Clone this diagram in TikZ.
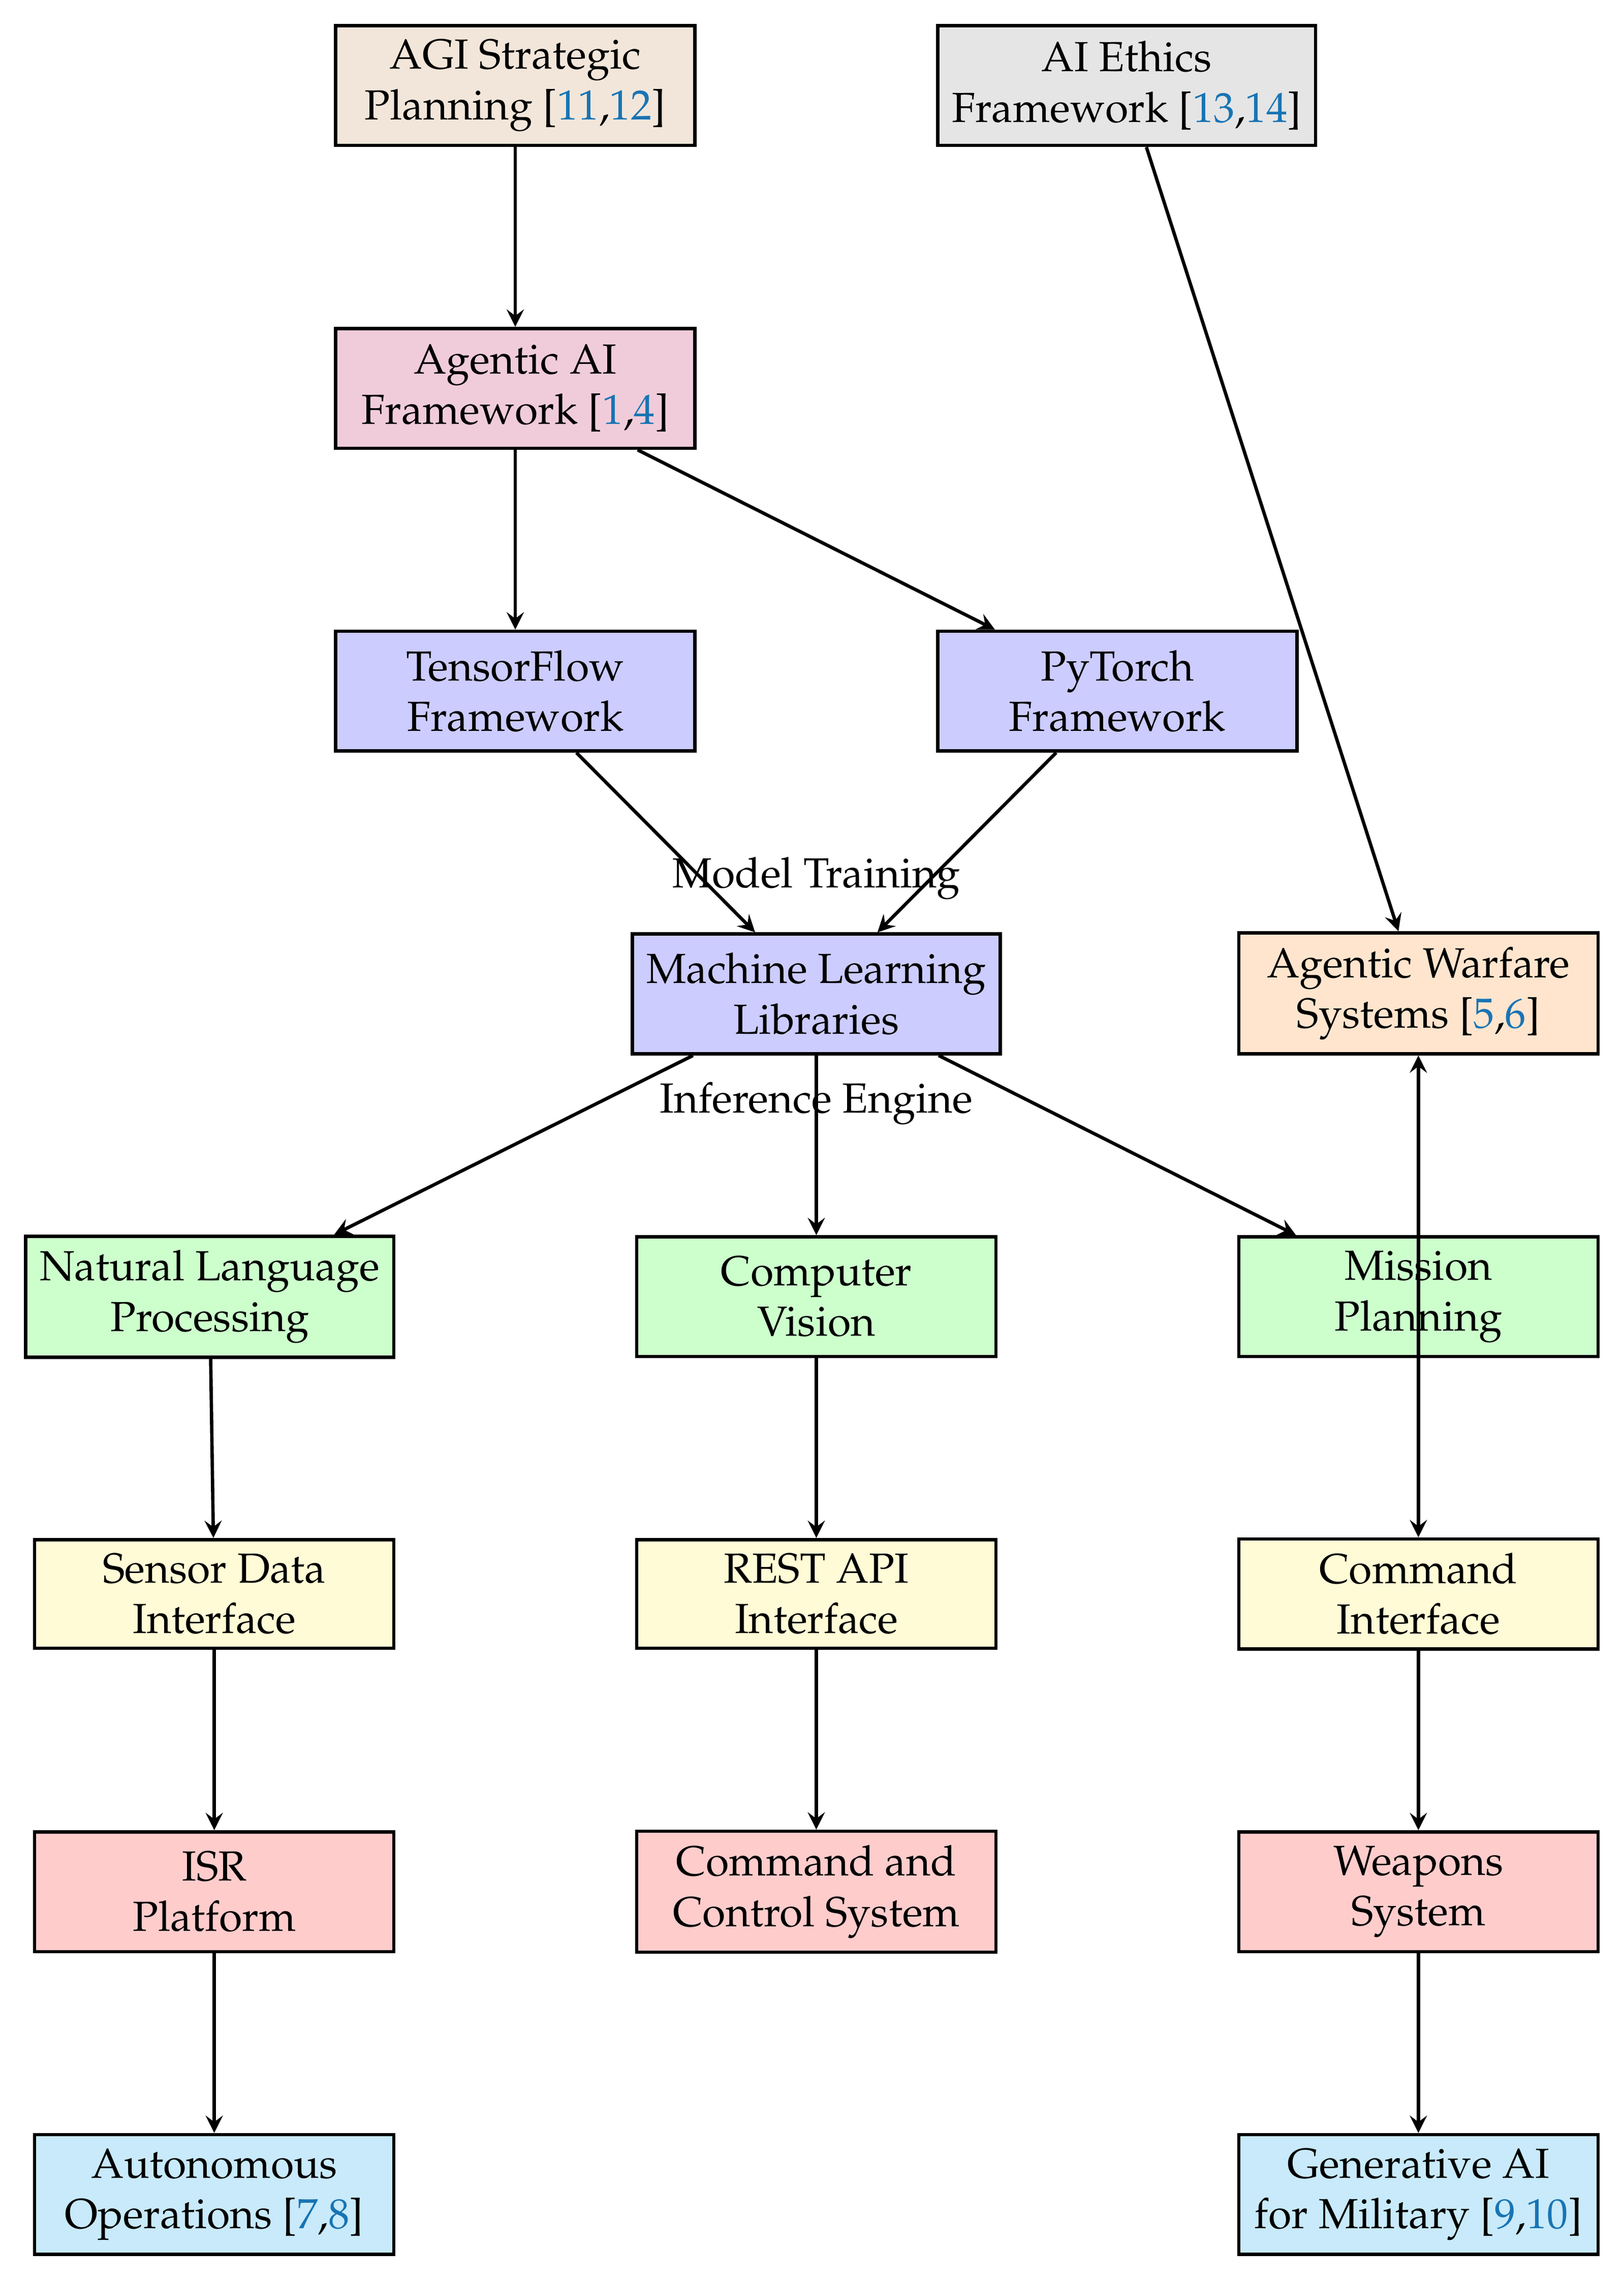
\documentclass[tikz,border=0pt]{standalone}
\usepackage[T1]{fontenc}
\usepackage{mathpazo}
\usepackage{tikz}
\usetikzlibrary{positioning}
\usetikzlibrary{calc}
\definecolor{cite-blue}{RGB}{24,116,180}
\definecolor{color-agi}{RGB}{242,230,218}
\definecolor{color-ethics}{RGB}{229,229,229}
\definecolor{color-agentic}{RGB}{240,204,218}
\definecolor{color-frame}{RGB}{204,204,255}
\definecolor{color-warfare}{RGB}{255,229,206}
\definecolor{color-task}{RGB}{204,255,204}
\definecolor{color-interface}{RGB}{255,251,214}
\definecolor{color-system}{RGB}{255,204,204}
\definecolor{color-ops}{RGB}{200,234,250}
\newcommand{\citepair}[2]{[\textcolor{cite-blue}{#1},\textcolor{cite-blue}{#2}]}

\begin{document}
\begin{tikzpicture}[node distance=1.5cm and 2cm, >=stealth,
box/.style={rectangle, draw, thick, minimum width=3cm, minimum height=1cm, align=center, fill=#1},
ifbox/.style={rectangle, draw, thick, minimum width=3cm, align=center, fill=#1}]

% top rows
\node [box=color-agi] (agi) at (0,0) {AGI Strategic\\Planning \citepair{11}{12}};
\node [box=color-ethics, right = of agi] (ethics) {AI Ethics\\Framework \citepair{13}{14}};
\node [box=color-agentic, below = of agi] (agentic) {Agentic AI\\Framework \citepair{1}{4}};
\node [box=color-frame, below = of agentic] (tf) {TensorFlow\\Framework};
\node [box=color-frame, right = of tf] (pytorch) {PyTorch\\Framework};

% libraries
\coordinate (mid) at ($(tf.south)!0.5!(pytorch.south)$);
\node [box=color-frame, below = of mid] (ml) {Machine Learning\\Libraries};
\node [above = 0.15cm of ml] (train) {Model Training};
\node [below = 0.1cm of ml] (infer) {Inference Engine};

% tasks
\node [box=color-task, below = of ml] (cv) {Computer\\Vision};
\node [box=color-task, left = of cv] (nlp) {Natural Language\\Processing};
\node [box=color-task, right = of cv] (mission) {Mission\\Planning};
\node [box=color-warfare, above = of mission] (warfare) {Agentic Warfare\\Systems \citepair{5}{6}};

% interfaces
\node [ifbox=color-interface, below = of cv] (rest) {REST API\\Interface};
\node [ifbox=color-interface, left = of rest] (sensor) {Sensor Data\\Interface};
\node [ifbox=color-interface, right = of rest] (cmd) {Command\\Interface};

% systems
\node [box=color-system, below = of rest] (c2) {Command and\\Control System};
\node [box=color-system, left = of c2] (isr) {ISR\\Platform};
\node [box=color-system, right = of c2] (weapons) {Weapons\\System};

% operations
\node [box=color-ops, below = of isr] (auto) {Autonomous\\Operations \citepair{7}{8}};
\node [box=color-ops, below = of weapons] (genai) {Generative AI\\for Military \citepair{9}{10}};

% arrows
\draw [thick,->] (agi) -- (agentic);
\draw [thick,->] (ethics) -- (warfare);
\draw [thick,->] (agentic) -- (tf);
\draw [thick,->] (agentic) -- (pytorch);
\draw [thick,->] (tf) -- (ml);
\draw [thick,->] (pytorch) -- (ml);
\draw [thick,->] (ml) -- (nlp);
\draw [thick,->] (ml) -- (cv);
\draw [thick,->] (ml) -- (mission);
\draw [thick,<->] (warfare) -- (cmd);
\draw [thick,->] (nlp) -- (sensor);
\draw [thick,->] (cv) -- (rest);
\draw [thick,->] (sensor) -- (isr);
\draw [thick,->] (rest) -- (c2);
\draw [thick,->] (cmd) -- (weapons);
\draw [thick,->] (isr) -- (auto);
\draw [thick,->] (weapons) -- (genai);

% margins
\path ($(nlp.west |- agi.north)+(-0.2,0.2)$) rectangle ($(genai.east |- genai.south)+(0.2,-0.2)$);
\end{tikzpicture}
\end{document}
